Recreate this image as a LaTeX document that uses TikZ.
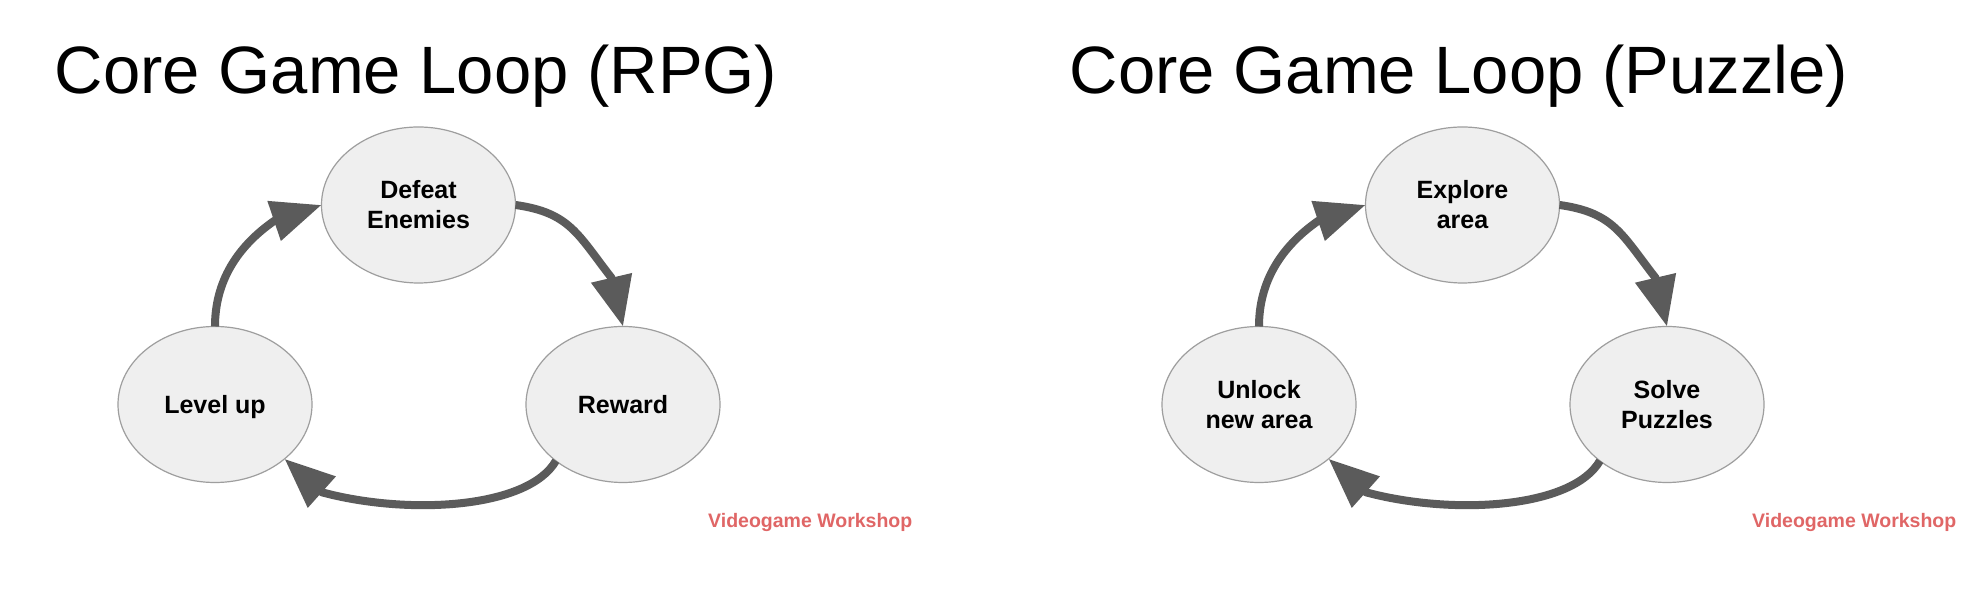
\documentclass[tikz,border=0pt]{standalone}
\usepackage{fontspec}
\setmainfont{Liberation Sans}
\usetikzlibrary{shapes.geometric,arrows.meta}
\definecolor{bubblefill}{HTML}{EFEFEF}
\definecolor{bubbleline}{HTML}{9E9E9E}
\definecolor{arrowgrey}{HTML}{5B5B5B}
\definecolor{creditred}{HTML}{E06666}
\tikzset{
  bubble/.style={ellipse, draw=bubbleline, line width=1.2bp, fill=bubblefill,
    minimum width=194bp, minimum height=156bp, inner sep=0pt, outer sep=0pt,
    align=center, font=\fontsize{25bp}{30bp}\selectfont\bfseries},
  looparrow/.style={draw=arrowgrey, line width=8bp, line join=round,
    -{Triangle[length=50bp,width=40bp]}, arrowgrey},
  bigtitle/.style={anchor=base west, inner sep=0pt, font=\fontsize{67bp}{80bp}\selectfont},
  credit/.style={anchor=base west, inner sep=0pt, text=creditred,
    font=\fontsize{19.5bp}{23bp}\selectfont\bfseries}
}
\begin{document}
\begin{tikzpicture}[x=1bp,y=1bp]
\useasboundingbox (0,0) rectangle (1970,612);
\fill[white] (0,0) rectangle (1970,612);

% ---------- left: RPG ----------
\node[bigtitle] (t1) at (54.7,518.5) {Core Game Loop (RPG)};
\node[bubble] (def) at (418.5,407) {Defeat\\Enemies};
\node[bubble, text depth=0pt] (lvl) at (215,207.5) {Level up};
\node[bubble] (rew) at (623,207.5) {Reward};
\node[credit] (c1) at (708,84) {Videogame Workshop};

\coordinate (a1) at ([shift={(-47.5,-16)}]def.west);
\coordinate (a2) at ([shift={(-11.5,48.7)}]rew.north);
\coordinate (a3) at ([shift={(37.5,-33.5)}]lvl.322);
\draw[looparrow] (lvl.north) to[out=90,in=215,distance=45bp] (a1) -- (def.west);
\draw[looparrow] (def.east) to[out=-8,in=128,distance=55bp] (a2) -- (rew.north);
\draw[looparrow] (rew.220) to[out=240,in=-15,out distance=55bp,in distance=90bp] (a3) -- (lvl.322);

% ---------- right: Puzzle ----------
\node[bigtitle] (t2) at (1069.7,518.5) {Core Game Loop (Puzzle)};
\node[bubble] (exp) at (1462.5,407) {Explore\\area};
\node[bubble] (unl) at (1259,207.5) {Unlock\\new area};
\node[bubble] (sol) at (1667,207.5) {Solve\\Puzzles};
\node[credit] (c2) at (1752,84) {Videogame Workshop};

\coordinate (b1) at ([shift={(-47.5,-16)}]exp.west);
\coordinate (b2) at ([shift={(-11.5,48.7)}]sol.north);
\coordinate (b3) at ([shift={(37.5,-33.5)}]unl.322);
\draw[looparrow] (unl.north) to[out=90,in=215,distance=45bp] (b1) -- (exp.west);
\draw[looparrow] (exp.east) to[out=-8,in=128,distance=55bp] (b2) -- (sol.north);
\draw[looparrow] (sol.220) to[out=240,in=-15,out distance=55bp,in distance=90bp] (b3) -- (unl.322);
\end{tikzpicture}
\end{document}
